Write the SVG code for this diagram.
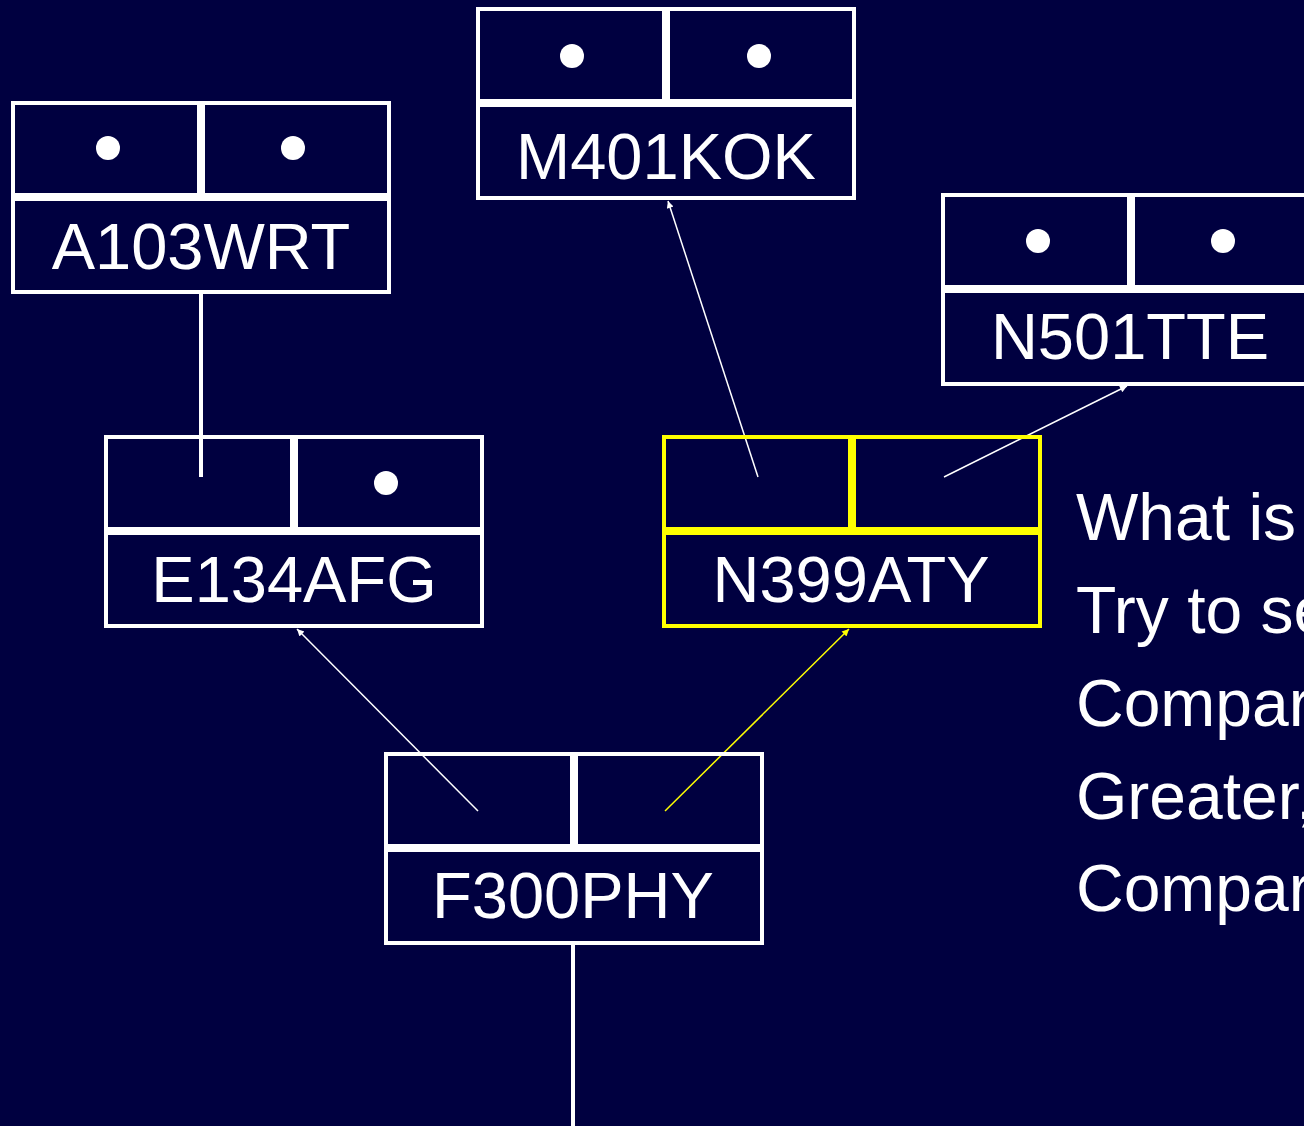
<svg xmlns="http://www.w3.org/2000/svg" width="1304" height="1126" viewBox="0 0 1304 1126">
<style>
.c{fill:none;stroke:#fff;stroke-width:4}
.y .c{stroke:#ffff00}
.d{fill:#fff}
.t{font-family:"Liberation Sans",Arial,sans-serif;font-size:65px;fill:#fff;text-anchor:middle}
.s{font-family:"Liberation Sans",Arial,sans-serif;font-size:66px;fill:#fff}
.l{fill:none;stroke:#fff;stroke-width:1.5}
.ly{fill:none;stroke:#ffff00;stroke-width:1.5}
.lw{fill:none;stroke:#fff;stroke-width:4}
</style>
<defs>
<marker id="aw" viewBox="0 0 10 10" refX="10" refY="5" markerWidth="9" markerHeight="7" markerUnits="userSpaceOnUse" orient="auto"><path d="M0,0L10,5L0,10z" fill="#fff"/></marker>
<marker id="ay" viewBox="0 0 10 10" refX="10" refY="5" markerWidth="9" markerHeight="7" markerUnits="userSpaceOnUse" orient="auto"><path d="M0,0L10,5L0,10z" fill="#ffff00"/></marker>
</defs>
<rect width="1304" height="1126" fill="#000040"/>
<g id="connectors">
<line class="lw" x1="201" y1="477" x2="201" y2="294"/>
<line class="l" x1="758" y1="477" x2="668" y2="201" marker-end="url(#aw)"/>
<line class="l" x1="944" y1="477" x2="1127" y2="386" marker-end="url(#aw)"/>
<line class="l" x1="478" y1="811" x2="297" y2="629" marker-end="url(#aw)"/>
<line class="ly" x1="665" y1="811" x2="849" y2="629" marker-end="url(#ay)"/>
<line class="lw" x1="573" y1="1126" x2="573" y2="944"/>
</g>
<g id="A103WRT" transform="translate(11,101)">
<rect class="c" x="2" y="2" width="186" height="92"/><rect class="c" x="192" y="2" width="186" height="92"/><rect class="c" x="2" y="98" width="376" height="93"/>
<circle class="d" cx="97" cy="47" r="12"/><circle class="d" cx="282" cy="47" r="12"/>
<text class="t" x="190" y="168">A103WRT</text>
</g>
<g id="M401KOK" transform="translate(476,7)">
<rect class="c" x="2" y="2" width="186" height="92"/><rect class="c" x="192" y="2" width="186" height="92"/><rect class="c" x="2" y="98" width="376" height="93"/>
<circle class="d" cx="96" cy="49" r="12"/><circle class="d" cx="283" cy="49" r="12"/>
<text class="t" x="190" y="172">M401KOK</text>
</g>
<g id="N501TTE" transform="translate(941,193)">
<rect class="c" x="2" y="2" width="186" height="92"/><rect class="c" x="192" y="2" width="186" height="92"/><rect class="c" x="2" y="98" width="376" height="93"/>
<circle class="d" cx="97" cy="48" r="12"/><circle class="d" cx="282" cy="48" r="12"/>
<text class="t" x="189" y="166">N501TTE</text>
</g>
<g id="E134AFG" transform="translate(104,435)">
<rect class="c" x="2" y="2" width="186" height="92"/><rect class="c" x="192" y="2" width="186" height="92"/><rect class="c" x="2" y="98" width="376" height="93"/>
<circle class="d" cx="282" cy="48" r="12"/>
<text class="t" x="190" y="167">E134AFG</text>
</g>
<g id="N399ATY" class="y" transform="translate(662,435)">
<rect class="c" x="2" y="2" width="186" height="92"/><rect class="c" x="192" y="2" width="186" height="92"/><rect class="c" x="2" y="98" width="376" height="93"/>
<text class="t" x="189" y="167">N399ATY</text>
</g>
<g id="F300PHY" transform="translate(384,752)">
<rect class="c" x="2" y="2" width="186" height="92"/><rect class="c" x="192" y="2" width="186" height="92"/><rect class="c" x="2" y="98" width="376" height="93"/>
<text class="t" x="189" y="166">F300PHY</text>
</g>
<g id="notes">
<text class="s" x="1076" y="540">What is</text>
<text class="s" x="1076" y="633">Try to se</text>
<text class="s" x="1076" y="726">Compar</text>
<text class="s" x="1076" y="819">Greater,</text>
<text class="s" x="1076" y="911">Compar</text>
</g>
</svg>
